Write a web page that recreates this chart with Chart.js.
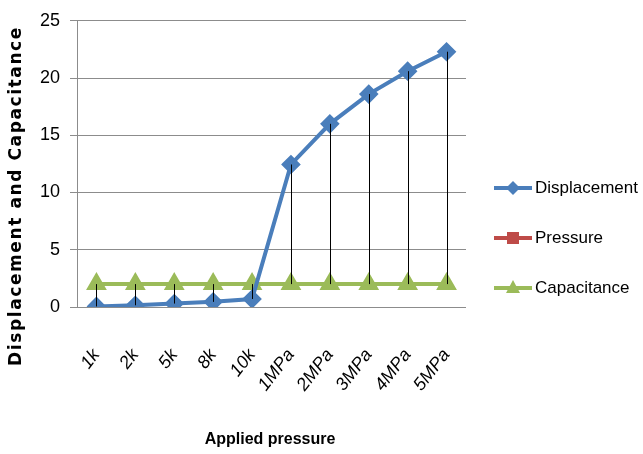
<!DOCTYPE html>
<html>
<head>
<meta charset="utf-8">
<script src="https://cdn.jsdelivr.net/npm/chart.js@4/dist/chart.umd.min.js"></script>
<style>
  html, body { margin: 0; padding: 0; background: #fff; }
  #wrap { width: 643px; height: 454px; }
</style>
</head>
<body>
<div id="wrap"><canvas id="chart" width="643" height="454"></canvas></div>
<script>
const categories = ['1k', '2k', '5k', '8k', '10k', '1MPa', '2MPa', '3MPa', '4MPa', '5MPa'];
const displacement = [0.05, 0.15, 0.3, 0.45, 0.7, 12.45, 16.0, 18.6, 20.6, 22.3];
const pressure = [null, null, null, null, null, null, null, null, null, null];
const capacitance = [2, 2, 2, 2, 2, 2, 2, 2, 2, 2];
const yTicks = [0, 5, 10, 15, 20, 25];

const font = "'Liberation Sans Narrow', 'Liberation Sans', sans-serif";

// black high-low lines between the series at each category
const hiLoLines = {
  id: 'hiLoLines',
  afterDatasetsDraw(chart) {
    const ctx = chart.ctx;
    const x = chart.scales.x, y = chart.scales.y;
    ctx.save();
    ctx.strokeStyle = '#000';
    ctx.lineWidth = 1;
    categories.forEach((c, i) => {
      const vals = [displacement[i], pressure[i], capacitance[i]].filter(v => v !== null);
      const hi = Math.max(...vals), lo = Math.min(...vals);
      const px = Math.round(x.getPixelForValue(i)) + 0.5;
      ctx.beginPath();
      ctx.moveTo(px, y.getPixelForValue(hi));
      ctx.lineTo(px, y.getPixelForValue(lo));
      ctx.stroke();
    });
    ctx.restore();
  }
};

// axis titles and legend drawn like the spreadsheet original
const extras = {
  id: 'extras',
  afterDraw(chart) {
    const ctx = chart.ctx;
    ctx.save();
    ctx.fillStyle = '#000';
    ctx.font = "bold 17px 'DejaVu Sans', sans-serif";
    ctx.letterSpacing = '1.6px';
    ctx.textAlign = 'center';
    ctx.textBaseline = 'middle';
    ctx.translate(17, 196);
    ctx.rotate(-Math.PI / 2);
    ctx.fillText('Displacement and Capacitance', 0, 0);
    ctx.restore();

    ctx.save();
    ctx.fillStyle = '#000';
    ctx.font = "bold 16px " + font;
    ctx.textAlign = 'center';
    ctx.textBaseline = 'middle';
    ctx.fillText('Applied pressure', 270, 440);
    ctx.restore();

    const items = chart.data.datasets;
    items.forEach((ds, k) => {
      const ly = 188 + k * 50;
      ctx.save();
      ctx.strokeStyle = ds.borderColor;
      ctx.lineWidth = 4;
      ctx.beginPath();
      ctx.moveTo(494, ly);
      ctx.lineTo(532, ly);
      ctx.stroke();
      ctx.fillStyle = ds.pointBackgroundColor;
      ctx.beginPath();
      const cx = 513, r = 7;
      if (ds.pointStyle === 'rectRot') {
        ctx.moveTo(cx, ly - r); ctx.lineTo(cx + r, ly); ctx.lineTo(cx, ly + r); ctx.lineTo(cx - r, ly);
      } else if (ds.pointStyle === 'rect') {
        ctx.rect(cx - 6, ly - 6, 12, 12);
      } else {
        ctx.moveTo(cx, ly - 8); ctx.lineTo(cx + 7, ly + 5); ctx.lineTo(cx - 7, ly + 5);
      }
      ctx.closePath();
      ctx.fill();
      ctx.fillStyle = '#000';
      ctx.font = "17px " + font;
      ctx.textAlign = 'left';
      ctx.textBaseline = 'middle';
      ctx.fillText(ds.label, 535, ly);
      ctx.restore();
    });
  }
};

new Chart(document.getElementById('chart'), {
  type: 'line',
  data: {
    labels: categories,
    datasets: [
      {
        label: 'Displacement',
        data: displacement,
        borderColor: '#4A7EBB',
        backgroundColor: '#4A7EBB',
        pointBackgroundColor: '#4A7EBB',
        pointBorderColor: '#4A7EBB',
        borderWidth: 4,
        pointStyle: 'rectRot',
        pointRadius: 7,
        tension: 0
      },
      {
        label: 'Pressure',
        data: pressure,
        borderColor: '#BE4B48',
        backgroundColor: '#BE4B48',
        pointBackgroundColor: '#BE4B48',
        pointBorderColor: '#BE4B48',
        borderWidth: 4,
        pointStyle: 'rect',
        pointRadius: 6
      },
      {
        label: 'Capacitance',
        data: capacitance,
        borderColor: '#9BBB59',
        backgroundColor: '#9BBB59',
        pointBackgroundColor: '#9BBB59',
        pointBorderColor: '#9BBB59',
        borderWidth: 4,
        pointStyle: 'triangle',
        pointRadius: 8,
        tension: 0
      }
    ]
  },
  options: {
    responsive: false,
    animation: false,
    layout: { padding: { left: 0, right: 177, top: 17, bottom: 0 } },
    plugins: {
      legend: { display: false },
      tooltip: { enabled: false }
    },
    scales: {
      x: {
        offset: true,
        grid: { display: false, drawTicks: false },
        border: { display: false },
        ticks: {
          color: '#000',
          font: { family: font, size: 18, style: 'italic' },
          minRotation: 52,
          maxRotation: 52,
          padding: 38,
          autoSkip: false
        },
        afterFit(s) { s.height = 147; }
      },
      y: {
        min: 0,
        max: 25,
        afterBuildTicks(s) { s.ticks = yTicks.map(v => ({ value: v })); },
        grid: { color: '#8c8c8c', lineWidth: 1, tickLength: 7 },
        border: { display: true, color: '#8c8c8c' },
        ticks: {
          color: '#000',
          font: { family: font, size: 18 },
          padding: 10
        },
        afterFit(s) { s.width = 77; }
      }
    }
  },
  plugins: [hiLoLines, extras]
});
</script>
</body>
</html>
